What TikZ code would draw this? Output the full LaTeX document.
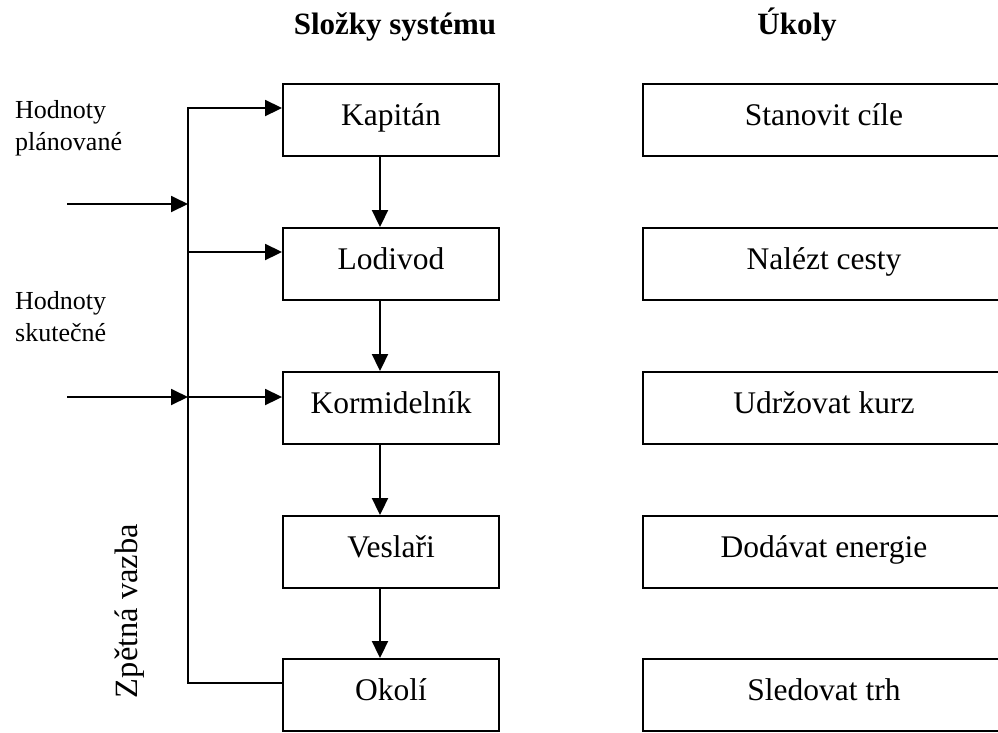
\documentclass[tikz,border=0pt]{standalone}
\usepackage{fontspec}
\setmainfont{Liberation Serif}
\usetikzlibrary{arrows.meta}
\newcommand\boxfnt{\fontsize{31.5}{38}\selectfont}
\newcommand\lblfnt{\fontsize{26}{32}\selectfont}
\newcommand\hdrfnt{\fontsize{31}{38}\selectfont\bfseries}
\begin{document}
\begin{tikzpicture}[x=1pt,y=-1pt,
  lw/.style={line width=1.9pt},
  sbox/.style={draw, lw, minimum width=216pt, minimum height=72pt, inner sep=0pt,
    text height=20pt, text depth=9pt, font=\boxfnt},
  tbox/.style={sbox, minimum width=362pt},
  hdr/.style={font=\hdrfnt, anchor=base, inner sep=0pt},
  lbl/.style={font=\lblfnt, align=left, anchor=north west, inner sep=0pt},
  arr/.style={lw, -{Triangle[length=17pt,width=16pt]}}]
\useasboundingbox (0,0) rectangle (998,732);
\clip (0,0) rectangle (998,732);

\node[hdr] (h1) at (395,34) {Složky systému};
\node[hdr] (h2) at (797,34) {Úkoly};

\node[sbox] (kap) at (391,120) {Kapitán};
\node[sbox] (lod) at (391,264) {Lodivod};
\node[sbox] (kor) at (391,408) {Kormidelník};
\node[sbox] (ves) at (391,552) {Veslaři};
\node[sbox] (oko) at (391,695) {Okolí};

\node[tbox] (t1) at (824,120) {Stanovit cíle};
\node[tbox] (t2) at (824,264) {Nalézt cesty};
\node[tbox] (t3) at (824,408) {Udržovat kurz};
\node[tbox] (t4) at (824,552) {Dodávat energie};
\node[tbox] (t5) at (824,695) {Sledovat trh};

\node[lbl] (hp) at (15,100) {Hodnoty\\plánované};
\node[lbl] (hs) at (15,291) {Hodnoty\\skutečné};
\node[font=\fontsize{32.5}{38}\selectfont, rotate=90, inner sep=0pt] (zv) at (130,611) {Zpětná vazba};

\coordinate (dx) at (380,0);
\coordinate (b1) at (188,108);
\coordinate (b2) at (188,252);
\coordinate (b3) at (188,397);
\coordinate (j1) at (188,204);
\coordinate (in1) at (67,204);
\coordinate (in2) at (67,397);

\draw[arr] (kap.south -| dx) -- (lod.north -| dx);
\draw[arr] (lod.south -| dx) -- (kor.north -| dx);
\draw[arr] (kor.south -| dx) -- (ves.north -| dx);
\draw[arr] (ves.south -| dx) -- (oko.north -| dx);

\draw[arr] ([yshift=12pt]oko.west) -| (b1) -- ([yshift=12pt]kap.west);
\draw[arr] (b2) -- ([yshift=12pt]lod.west);
\draw[arr] (b3) -- ([yshift=11pt]kor.west);
\draw[arr] (in1) -- (j1);
\draw[arr] (in2) -- (b3);
\end{tikzpicture}
\end{document}
